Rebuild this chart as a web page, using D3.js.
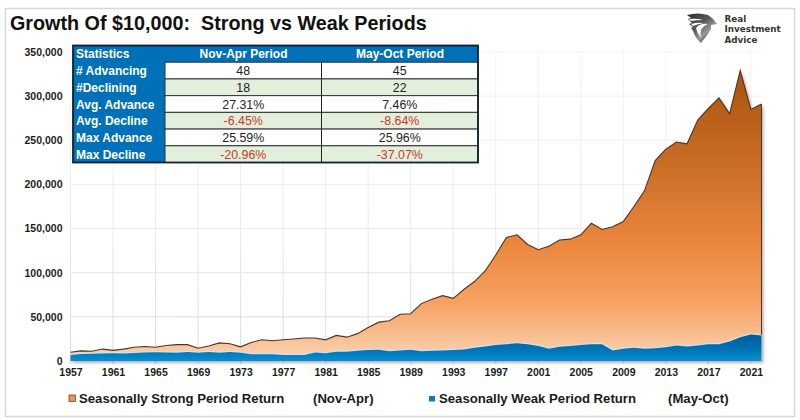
<!DOCTYPE html>
<html>
<head>
<meta charset="utf-8">
<script src="https://cdn.jsdelivr.net/npm/d3@7"></script>
<style>
html,body{margin:0;padding:0;background:#fff;}
svg{display:block;}
text{font-family:"Liberation Sans",Arial,sans-serif;}
</style>
</head>
<body>
<svg id="chart" width="800" height="420"></svg>
<script>
const years = [1957,1958,1959,1960,1961,1962,1963,1964,1965,1966,1967,1968,1969,1970,1971,1972,1973,1974,1975,1976,1977,1978,1979,1980,1981,1982,1983,1984,1985,1986,1987,1988,1989,1990,1991,1992,1993,1994,1995,1996,1997,1998,1999,2000,2001,2002,2003,2004,2005,2006,2007,2008,2009,2010,2011,2012,2013,2014,2015,2016,2017,2018,2019,2020,2021,2022];
const strongValues = [10000,11500,11000,13500,12000,13500,15500,16500,15500,17500,18500,18500,14500,17000,20500,19500,16000,21000,24000,23000,24000,25000,26000,26000,24000,29000,27000,31000,38000,44000,45500,53000,53500,65000,70000,74000,71000,81000,90000,102000,120000,140000,143000,132000,126000,130000,137000,138000,143000,156000,149000,152000,158000,175000,193000,227000,240000,248000,246000,273000,286000,298000,280000,329000,285000,291000];
const weakValues = [6800,8000,8300,8500,8800,8600,9000,9500,10000,9500,9300,10200,9300,10200,9300,10300,9300,7600,7600,7600,6800,6800,6800,9500,8800,10500,10500,11500,12500,12800,11000,12000,12800,11000,11500,12000,12500,13000,15000,16500,18000,19000,20000,19000,17000,14000,16000,17000,18000,19000,19000,12000,14000,15000,14000,14500,15500,17500,16500,17500,19000,19000,22000,27000,30000,29000];
const tickYears = [1957,1961,1965,1969,1973,1977,1981,1985,1989,1993,1997,2001,2005,2009,2013,2017,2021];
const yTicks = [0,50000,100000,150000,200000,250000,300000,350000];
const titleText = "Growth Of $10,000:\u00A0\u00A0Strong vs Weak Periods";
const tableHeader = ["Statistics","Nov-Apr Period","May-Oct Period"];
const rowLabels = ["# Advancing","#Declining","Avg. Advance","Avg. Decline","Max Advance","Max Decline"];
const novAprStats = ["48","18","27.31%","-6.45%","25.59%","-20.96%"];
const mayOctStats = ["45","22","7.46%","-8.64%","25.96%","-37.07%"];
const logoLines = ["Real","Investment","Advice"];

const svg = d3.select("#chart");
const defs = svg.append("defs");

const x = d3.scaleLinear().domain([1957,2022]).range([70.5,761.5]);
const y = d3.scaleLinear().domain([0,350000]).range([361,52]);

function grad(id, y1, y2, stops){
  const g = defs.append("linearGradient").attr("id",id)
    .attr("gradientUnits","userSpaceOnUse")
    .attr("x1",0).attr("x2",0).attr("y1",y1).attr("y2",y2);
  stops.forEach(s=>g.append("stop").attr("offset",s[0]).attr("stop-color",s[1]));
}
grad("orange",y(329000),361,[[0,"#aa5210"],[0.35,"#cc7029"],[0.6,"#ec873c"],[0.8,"#f7a264"],[0.95,"#f9c8a0"],[1,"#fad4b4"]]);
grad("blue",y(30000),361,[[0,"#005c94"],[0.55,"#0072b5"],[1,"#0a8ed0"]]);
grad("gridG",52,361,[[0,"#f4f4f4"],[0.5,"#ececec"],[1,"#d9d9d9"]]);
const eg = defs.append("linearGradient").attr("id","eagle").attr("gradientUnits","userSpaceOnUse")
  .attr("x1",688).attr("y1",14).attr("x2",712).attr("y2",42);
[[0,"#2c2c2c"],[0.45,"#5a5a5a"],[0.7,"#9a9a9a"],[1,"#333"]].forEach(s=>eg.append("stop").attr("offset",s[0]).attr("stop-color",s[1]));

const shadow = defs.append("filter").attr("id","shadow")
  .attr("x","-5%").attr("y","-5%").attr("width","115%").attr("height","115%");
shadow.append("feDropShadow").attr("dx",2).attr("dy",2).attr("stdDeviation",1.6)
  .attr("flood-color","#000").attr("flood-opacity",0.3);

// frame
svg.append("rect").attr("x",5.5).attr("y",8.5).attr("width",789).attr("height",408)
  .attr("fill","#fff").attr("stroke","#d8d8d8").attr("stroke-width",1.5);

// title
svg.append("text").attr("x",10).attr("y",29.5).attr("font-size",19.75).attr("font-weight","bold")
  .attr("fill","#111").text(titleText);

// grid
svg.append("g").selectAll("line").data(yTicks.filter(d=>d>0)).join("line")
  .attr("x1",x(1957)).attr("x2",x(2022)).attr("y1",d=>y(d)).attr("y2",d=>y(d)+0.01)
  .attr("stroke","url(#gridG)").attr("stroke-width",1);
svg.append("g").selectAll("line").data(tickYears).join("line")
  .attr("x1",d=>x(d)).attr("x2",d=>x(d)+0.01).attr("y1",y(350000)).attr("y2",y(0)+3)
  .attr("stroke","url(#gridG)").attr("stroke-width",1);

// areas
const strongArea = d3.area().x((d,i)=>x(years[i])).y0(y(0)).y1(d=>y(d));
const strongLine = d3.line().x((d,i)=>x(years[i])).y(d=>y(d));
svg.append("path").datum(strongValues).attr("d",strongArea).attr("fill","url(#orange)").attr("filter","url(#shadow)");
svg.append("path").datum(strongValues).attr("d",strongLine).attr("fill","none").attr("stroke","#4a3526").attr("stroke-width",1.1);
svg.append("line").attr("x1",x(2022)).attr("x2",x(2022)).attr("y1",y(strongValues[strongValues.length-1])).attr("y2",y(weakValues[weakValues.length-1]))
  .attr("stroke","#4a3526").attr("stroke-width",1);
svg.append("path").datum(weakValues).attr("d",strongLine).attr("fill","none").attr("stroke","#cfe3ea").attr("stroke-width",2.4);
svg.append("path").datum(weakValues).attr("d",strongArea).attr("fill","url(#blue)");

// axes
const xAxis = d3.axisBottom(x).tickValues(tickYears).tickFormat(d3.format("d")).tickSize(0).tickPadding(8);
const yAxis = d3.axisLeft(y).tickValues(yTicks).tickFormat(d3.format(",")).tickSize(0).tickPadding(8);
const gx = svg.append("g").attr("transform","translate(0,361)").call(xAxis);
const gy = svg.append("g").attr("transform","translate(70.5,0)").call(yAxis);
[gx,gy].forEach(g=>{
  g.select(".domain").remove();
  g.selectAll("text").attr("font-size",10.5).attr("font-weight","bold").attr("fill","#1c1c1c")
    .style("font-family",'"Liberation Sans",Arial,sans-serif');
});

// table
const colEdges = [73,165,321.5,478];
const rowBand = d3.scaleBand().domain(d3.range(rowLabels.length+1)).range([45.5,162.5]);
const tbl = svg.append("g");
tbl.append("rect").attr("x",colEdges[0]).attr("y",45.5).attr("width",colEdges[3]-colEdges[0]).attr("height",117)
  .attr("fill","#0070b8");
rowLabels.forEach((lab,i)=>{
  const top = rowBand(i+1), h = rowBand.bandwidth();
  const fill = i%2===0 ? "#ffffff" : "#e2efda";
  tbl.append("rect").attr("x",colEdges[1]).attr("y",top).attr("width",colEdges[3]-colEdges[1]).attr("height",h)
    .attr("fill",fill).attr("stroke","#333").attr("stroke-width",1);
  tbl.append("line").attr("x1",colEdges[2]).attr("x2",colEdges[2]).attr("y1",top).attr("y2",top+h).attr("stroke","#222").attr("stroke-width",1);
  tbl.append("text").attr("x",76).attr("y",top+h/2+4.5).attr("font-size",12).attr("font-weight","bold").attr("fill","#fff").text(lab);
  [[novAprStats[i],(colEdges[1]+colEdges[2])/2],[mayOctStats[i],(colEdges[2]+colEdges[3])/2]].forEach(([t,cx])=>{
    tbl.append("text").attr("x",cx).attr("y",top+h/2+4.5).attr("font-size",12.4).attr("text-anchor","middle")
      .attr("fill",t[0]==="-"?"#c63a2e":"#222").text(t);
  });
});
const headerY = rowBand(0)+rowBand.bandwidth()/2+4.5;
tbl.append("text").attr("x",76).attr("y",headerY).attr("font-size",12).attr("font-weight","bold").attr("fill","#fff").text(tableHeader[0]);
tbl.append("text").attr("x",243.5).attr("y",headerY).attr("font-size",12).attr("font-weight","bold").attr("fill","#fff").attr("text-anchor","middle").text(tableHeader[1]);
tbl.append("text").attr("x",400).attr("y",headerY).attr("font-size",12).attr("font-weight","bold").attr("fill","#fff").attr("text-anchor","middle").text(tableHeader[2]);
tbl.append("rect").attr("x",colEdges[0]).attr("y",45.5).attr("width",colEdges[3]-colEdges[0]).attr("height",117)
  .attr("fill","none").attr("stroke","#10202c").attr("stroke-width",1.8);

// legend
const lg = svg.append("g").attr("font-size",13.15).attr("font-weight","bold").attr("fill","#1a1a1a");
lg.append("rect").attr("x",69).attr("y",395).attr("width",6.5).attr("height",6.5).attr("fill","#ef9152").attr("stroke","#6a4a33").attr("stroke-width",0.8);
lg.append("text").attr("x",79).attr("y",402.5).text("Seasonally Strong Period Return");
lg.append("text").attr("x",313).attr("y",402.5).text("(Nov-Apr)");
lg.append("rect").attr("x",429).attr("y",396).attr("width",6).attr("height",5.5).attr("fill","#0c7bb9");
lg.append("text").attr("x",439).attr("y",402.5).text("Seasonally Weak Period Return");
lg.append("text").attr("x",668).attr("y",402.5).text("(May-Oct)");

// logo
const logo = svg.append("g");
logo.append("path").attr("fill","url(#eagle)")
  .attr("d","M687 15 Q698 12 708 15 Q713 18 717 24 L711 25 L711 29 Q707 36 701 43 Q695 38 693 31 L691 28 L693 27 L689 24 L692 23 L688 19 L691 18 Z");
logo.append("path").attr("fill","#fff")
  .attr("d","M689 19 Q697 18 703 20 Q697 20 691 21 Z M691 24 Q697 22 704 23 Q698 24 693 26 Z M696 28 Q700 23 708 24 Q703 26 701 30 Q700 34 701 38 Q697 33 696 28 Z");
logoLines.forEach((t,i)=>{
  logo.append("text").attr("x",724.5).attr("y",22+i*10.4).attr("font-size",8.8).attr("font-weight","bold")
    .style("font-family",'"DejaVu Sans",sans-serif').attr("fill","#333").text(t);
});
</script>
</body>
</html>
